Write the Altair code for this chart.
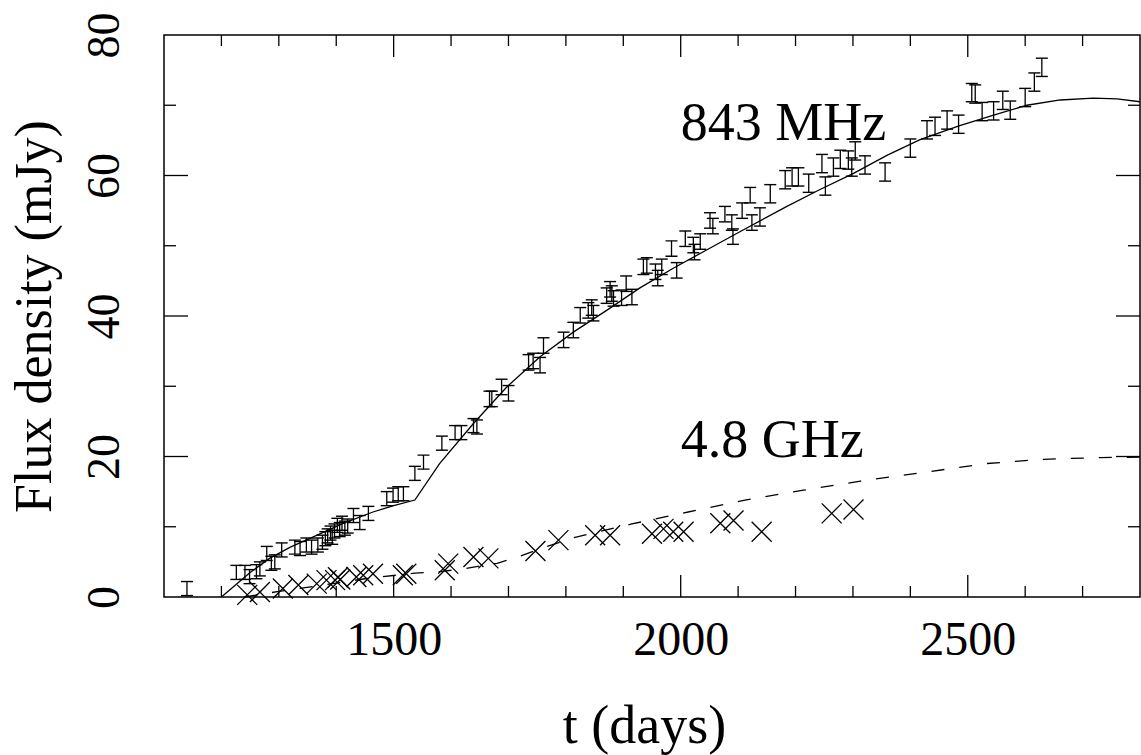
import altair as alt
import pandas as pd

# ---- 843 MHz observations: epoch (days), flux density (mJy), error (mJy)
t843 = [1140, 1226, 1241, 1249, 1261, 1267, 1279, 1287, 1293, 1305,
        1328, 1337, 1348, 1357, 1368, 1376, 1381, 1385, 1390, 1393,
        1397, 1402, 1406, 1410, 1415, 1420, 1430, 1441, 1456, 1488,
        1499, 1508, 1517, 1537, 1552, 1584, 1607, 1618, 1639, 1645,
        1667, 1671, 1688, 1700, 1735, 1743, 1755, 1761, 1796, 1813,
        1825, 1839, 1845, 1848, 1871, 1877, 1880, 1883, 1897, 1905,
        1915, 1935, 1941, 1956, 1960, 1967, 1984, 1993, 2008, 2022,
        2024, 2034, 2051, 2056, 2077, 2089, 2091, 2107, 2121, 2124,
        2138, 2156, 2182, 2194, 2205, 2223, 2246, 2252, 2266, 2278,
        2292, 2298, 2304, 2321, 2356, 2400, 2429, 2443, 2464, 2484,
        2507, 2513, 2525, 2545, 2561, 2574, 2600, 2616, 2629]
f843 = [1.2, 3.5, 3.5, 2.9, 3.6, 4.0, 6.2, 4.8, 5.0, 6.7,
        7.1, 6.9, 7.4, 7.1, 7.4, 7.8, 8.3, 8.7, 9.1, 8.5,
        9.4, 10.2, 9.6, 10.5, 9.8, 10.1, 11.6, 10.6, 11.9, 14.0,
        14.5, 14.7, 14.7, 17.6, 19.2, 21.9, 23.4, 23.4, 24.4, 24.2,
        28.2, 28.2, 29.9, 29.0, 33.4, 33.6, 33.0, 35.8, 36.6, 38.0,
        40.1, 40.8, 41.2, 40.4, 42.9, 43.8, 43.2, 42.5, 42.6, 44.6,
        42.7, 47.0, 47.2, 46.3, 45.4, 47.0, 49.6, 46.5, 51.0, 50.1,
        49.1, 50.6, 53.6, 52.8, 54.5, 53.3, 51.3, 55.0, 57.2, 53.3,
        54.1, 57.4, 59.4, 59.8, 59.8, 58.9, 61.7, 58.5, 61.2, 62.3,
        62.2, 61.2, 63.5, 61.5, 60.5, 63.9, 66.5, 67.0, 67.9, 67.3,
        71.8, 71.6, 69.1, 69.2, 70.7, 69.3, 71.1, 73.3, 75.4]
e843 = [1.0] * 40 + [1.1] * 40 + [1.3] * 29

# ---- 4.8 GHz observations: epoch (days), flux density (mJy)
t48 = [1245, 1267, 1307, 1334, 1366, 1383, 1398, 1403, 1407, 1435,
       1447, 1464, 1516, 1522, 1589, 1595, 1639, 1665, 1747, 1787,
       1851, 1877, 1950, 1970, 1987, 2005, 2069, 2092, 2141, 2263, 2301]
f48 = [0.3, 0.7, 1.2, 1.7, 1.9, 2.4, 2.4, 2.8, 2.5, 2.85,
       3.1, 3.3, 3.1, 3.3, 3.8, 4.75, 5.7, 5.5, 6.55, 8.1,
       8.8, 8.8, 9.0, 9.7, 9.3, 9.3, 10.5, 10.9, 9.3, 11.9, 12.45]

# ---- model curves
m843_t = [1200, 1250, 1284, 1320, 1360, 1410, 1464, 1500, 1537, 1580,
          1639, 1697, 1755, 1813, 1871, 1929, 1987, 2045, 2103, 2185,
          2240, 2301, 2360, 2417, 2486, 2545, 2603, 2661, 2719, 2760, 2800]
m843_f = [0.0, 3.5, 5.5, 7.1, 8.55, 10.4, 12.1, 13.0, 13.8, 19.0,
          24.7, 29.9, 34.2, 37.7, 40.8, 44.0, 46.8, 49.4, 52.0, 55.6,
          57.9, 60.3, 62.9, 65.1, 67.1, 68.6, 70.0, 70.75, 71.0, 70.9, 70.5]
m48_t = [1240, 1300, 1370, 1450, 1537, 1580, 1620, 1680, 1720, 1767,
         1816, 1915, 2013, 2112, 2214, 2313, 2429, 2533, 2632, 2731, 2800]
m48_f = [0.0, 0.8, 1.6, 2.6, 3.4, 3.6, 4.0, 4.8, 5.8, 7.2,
         8.5, 10.4, 12.1, 13.8, 15.2, 16.5, 17.8, 19.0, 19.6, 19.85, 19.9]

# ---- axis ticks and labels
x_major = [1500, 2000, 2500]
x_minor = [1200, 1300, 1400, 1600, 1700, 1800, 1900,
           2100, 2200, 2300, 2400, 2600, 2700]
y_major = [20, 40, 60]
y_minor = [10, 30, 50, 70]
y_labels = [0, 20, 40, 60, 80]

label_text = ["843 MHz", "4.8 GHz"]
label_t = [2000, 2000]
label_f = [65, 20]

W, H = 976, 562
FONT = "Liberation Serif"
INK = "black"

xs = alt.Scale(domain=[1100, 2800], nice=False, zero=False)
ys = alt.Scale(domain=[0, 80], nice=False, zero=False)

x_axis = alt.Axis(values=x_major, format="d", title="t (days)", domain=False,
                  ticks=False, tickSize=0, grid=False, labelFont=FONT,
                  labelFontSize=48, labelColor=INK, labelBaseline="alphabetic",
                  labelPadding=57, labelOverlap=False, labelFlush=False,
                  titleFont=FONT, titleFontSize=54, titleFontWeight="normal",
                  titleColor=INK, titleBaseline="alphabetic",
                  titleX=W / 2 - 8, titleY=145, titleAlign="center")
y_axis = alt.Axis(values=y_labels, format="d", title="Flux density (mJy)",
                  domain=False, ticks=False, tickSize=0, grid=False,
                  labelFont=FONT, labelFontSize=46, labelColor=INK,
                  labelAngle=270, labelAlign="center",
                  labelBaseline="alphabetic", labelPadding=46,
                  labelOverlap=False, labelFlush=False,
                  titleFont=FONT, titleFontSize=52, titleFontWeight="normal",
                  titleColor=INK, titleAngle=270, titleBaseline="alphabetic",
                  titleAlign="center", titleX=-114, titleY=H / 2)


def X(field):
    return alt.X(field, type="quantitative", scale=xs, axis=x_axis)


def Y(field):
    return alt.Y(field, type="quantitative", scale=ys, axis=y_axis)


obs = pd.DataFrame({"t": t843, "f": f843, "e": e843})
obs["lo"] = obs["f"] - obs["e"]
obs["hi"] = obs["f"] + obs["e"]

bars = alt.Chart(obs).mark_rule(color=INK, strokeWidth=1.3).encode(
    x=X("t"), y=Y("lo"), y2="hi")
cap_hi = alt.Chart(obs).mark_tick(orient="horizontal", size=12, thickness=1.4,
                                  color=INK, opacity=1).encode(x=X("t"), y=Y("hi"))
cap_lo = alt.Chart(obs).mark_tick(orient="horizontal", size=12, thickness=1.4,
                                  color=INK, opacity=1).encode(x=X("t"), y=Y("lo"))

crosses = alt.Chart(pd.DataFrame({"t": t48, "f": f48})).mark_point(
    shape="M-1,-1L1,1M-1,1L1,-1", size=400, filled=False, strokeWidth=1.3,
    color=INK, opacity=1).encode(x=X("t"), y=Y("f"))

line843 = alt.Chart(pd.DataFrame({"t": m843_t, "f": m843_f})).mark_line(
    color=INK, strokeWidth=1.3).encode(x=X("t"), y=Y("f"))
line48 = alt.Chart(pd.DataFrame({"t": m48_t, "f": m48_f})).mark_line(
    color=INK, strokeWidth=1.3, strokeDash=[13, 15]).encode(x=X("t"), y=Y("f"))

labels = alt.Chart(pd.DataFrame({"t": label_t, "f": label_f, "text": label_text})).mark_text(
    align="left", baseline="alphabetic", font=FONT, fontSize=54, color=INK).encode(
    x=X("t"), y=Y("f"), text="text:N")


def xticks(vals, length):
    d = pd.DataFrame({"t": vals})
    bottom = alt.Chart(d).mark_rule(color=INK, strokeWidth=1.3).encode(
        x=X("t"), y=alt.value(H), y2=alt.value(H - length))
    top = alt.Chart(d).mark_rule(color=INK, strokeWidth=1.3).encode(
        x=X("t"), y=alt.value(0), y2=alt.value(length))
    return [bottom, top]


def yticks(vals, length):
    d = pd.DataFrame({"v": vals})
    left = alt.Chart(d).mark_rule(color=INK, strokeWidth=1.3).encode(
        y=Y("v"), x=alt.value(0), x2=alt.value(length))
    right = alt.Chart(d).mark_rule(color=INK, strokeWidth=1.3).encode(
        y=Y("v"), x=alt.value(W), x2=alt.value(W - length))
    return [left, right]


layers = [bars, cap_hi, cap_lo, crosses, line843, line48, labels]
layers += xticks(x_major, 22) + xticks(x_minor, 11)
layers += yticks(y_major, 24) + yticks(y_minor, 12)

chart = alt.layer(*layers).properties(
    width=W, height=H,
    autosize=alt.AutoSizeParams(type="none"),
    padding={"left": 164, "top": 35, "right": 1, "bottom": 158},
    background="white",
).configure_view(stroke=INK, strokeWidth=1.5)

chart.save("out.html", embed_options={"renderer": "svg", "actions": False})
